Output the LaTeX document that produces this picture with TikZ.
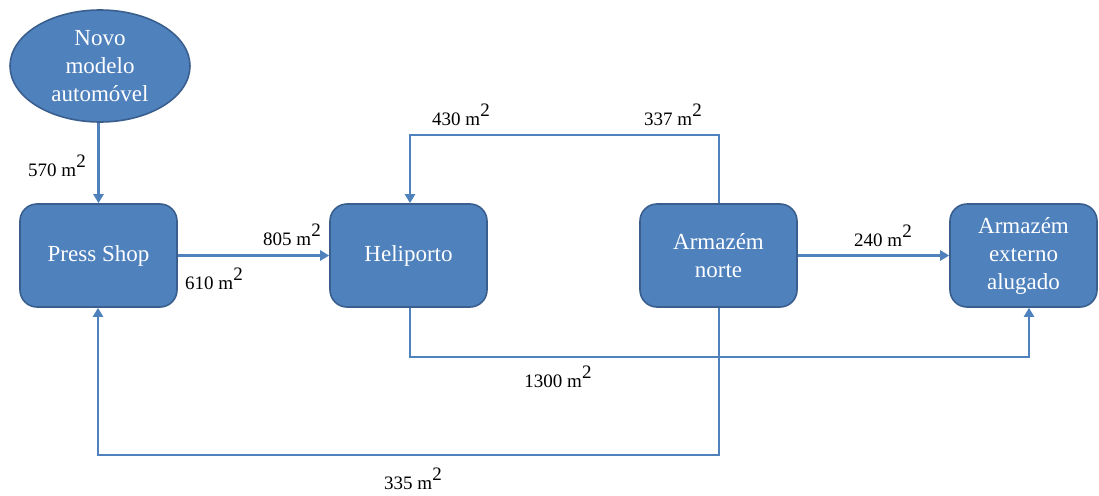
\documentclass[tikz,border=0pt]{standalone}
\usepackage{fontspec}
\setmainfont{Liberation Serif}
\usetikzlibrary{shapes.geometric,arrows.meta}
\definecolor{boxfill}{HTML}{4F81BD}
\definecolor{boxedge}{HTML}{3A5F8E}
\definecolor{flow}{HTML}{4F81BD}
\newcommand\msq{m\raisebox{.45em}{2}}
\tikzset{
  unit/.style={draw=boxedge, line width=1.6pt, fill=boxfill, rounded corners=17pt,
    minimum width=157pt, minimum height=103pt, inner sep=0pt, text=white,
    align=center, font=\fontsize{23}{28}\selectfont},
  source/.style={draw=boxedge, line width=1.6pt, fill=boxfill, ellipse,
    minimum width=180pt, minimum height=112pt, inner sep=0pt, text=white,
    align=center, font=\fontsize{23}{28}\selectfont},
  flowline/.style={draw=flow, line width=2.8pt, -{Triangle[length=9pt,width=10pt]}},
  qty/.style={font=\fontsize{19}{22}\selectfont, inner sep=0pt}
}
\begin{document}
\begin{tikzpicture}[x=1pt,y=-1pt]
\useasboundingbox (0,0) rectangle (1099,495);

% sources and units
\node[source] (novo) at (100,66) {Novo\\modelo\\automóvel};
\node[unit] (press) at (98.5,255.5) {Press Shop};
\node[unit] (heli) at (408.5,255.5) {Heliporto};
\node[unit] (norte) at (718.5,255.5) {Armazém\\norte};
\node[unit, minimum width=147pt] (ext) at (1023.5,255.5) {Armazém\\externo\\alugado};

% routing points of the bent flows
\coordinate (nt) at (719,135);
\coordinate (ht) at (410,135);
\coordinate (hb) at (410,357);
\coordinate (eb) at (1029,357);
\coordinate (nb) at (719,455);
\coordinate (pb) at (98,455);

% flows
\draw[flowline] (novo.south -| press.north) -- (press.north);
\draw[flowline] (press.east) -- (heli.west);
\draw[flowline] (norte.east) -- (ext.west);
\draw[flowline] (norte.north -| nt) -- (nt) -- (ht) -- (heli.north -| ht);
\draw[flowline] (heli.south -| hb) -- (hb) -- (eb) -- (ext.south -| eb);
\draw[flowline] (norte.south -| nb) -- (nb) -- (pb) -- (press.south -| pb);

% areas
\node[qty] (a570) at (57,166) {570 \msq};
\node[qty] (a610) at (214,279) {610 \msq};
\node[qty] (a805) at (292,235) {805 \msq};
\node[qty] (a430) at (461,115) {430 \msq};
\node[qty] (a337) at (673,115) {337 \msq};
\node[qty] (a240) at (883,236) {240 \msq};
\node[qty] (a1300) at (558,377) {1300 \msq};
\node[qty] (a335) at (413,479) {335 \msq};
\end{tikzpicture}
\end{document}
